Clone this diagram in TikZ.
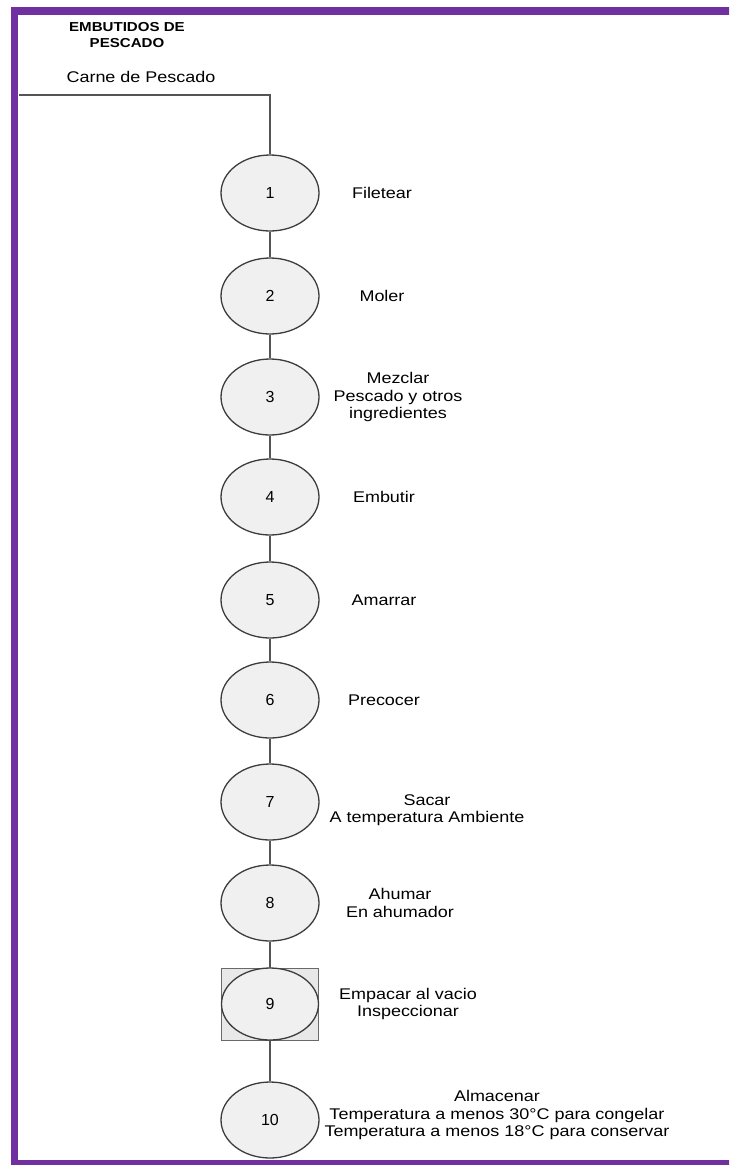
\documentclass[tikz,border=0pt]{standalone}
\usepackage{fontspec}
\setmainfont{Liberation Sans}
\newfontfamily\labfont{Liberation Sans}[FakeStretch=1.16]
\usetikzlibrary{shapes.geometric}
\definecolor{framec}{RGB}{112,48,160}
\definecolor{efill}{RGB}{240,240,240}
\definecolor{edraw}{RGB}{60,60,60}
\definecolor{connc}{RGB}{85,85,85}
\definecolor{sqfill}{RGB}{232,232,232}
\definecolor{sqdraw}{RGB}{105,105,105}
\begin{document}
\begin{tikzpicture}[x=1pt,y=-1pt,
  op/.style={ellipse,draw=edraw,fill=efill,line width=1.3pt,minimum width=98pt,minimum height=76pt,inner sep=0pt,font=\fontsize{16}{17}\selectfont},
  lbl/.style={align=center,font=\labfont\fontsize{15.5}{17.5}\selectfont,inner sep=0pt},
  conn/.style={draw=connc,line width=1.8pt},
  sqbox/.style={rectangle,draw=sqdraw,fill=sqfill,line width=1pt,minimum width=97pt,minimum height=72pt,inner sep=0pt}]
\useasboundingbox (0,0) rectangle (729,1165);
\begin{scope}
\clip (0,0) rectangle (729,1165);
\draw[framec,line width=7.5pt] (14.5,11) rectangle (760,1164);
\end{scope}
\node[font=\labfont\bfseries\fontsize{13}{16}\selectfont,align=center,inner sep=0pt] (title) at (127,35) {EMBUTIDOS DE\\PESCADO};
\node[lbl] (carne) at (141,77) {Carne de Pescado};
\node[op] (n1) at (270,193) {1};
\node[op] (n2) at (270,296) {2};
\node[op] (n3) at (270,397) {3};
\node[op] (n4) at (270,497) {4};
\node[op] (n5) at (270,600) {5};
\node[op] (n6) at (270,700) {6};
\node[op] (n7) at (270,802) {7};
\node[op] (n8) at (270,903) {8};
\node[sqbox] (sq) at (270,1004) {};
\node[op,minimum width=97pt,minimum height=72pt] (n9) at (270,1004) {9};
\node[op] (n10) at (270,1120) {10};
\coordinate (in) at (19,95);
\coordinate (corner) at (270,95);
\draw[conn] (in) -- (corner) -- (n1.north);
\draw[conn] (n1.south) -- (n2.north);
\draw[conn] (n2.south) -- (n3.north);
\draw[conn] (n3.south) -- (n4.north);
\draw[conn] (n4.south) -- (n5.north);
\draw[conn] (n5.south) -- (n6.north);
\draw[conn] (n6.south) -- (n7.north);
\draw[conn] (n7.south) -- (n8.north);
\draw[conn] (n8.south) -- (sq.north);
\draw[conn] (sq.south) -- (n10.north);
\node[lbl] (l1) at (382,193) {Filetear};
\node[lbl] (l2) at (382,296) {Moler};
\node[lbl] (l3) at (398,397) {Mezclar\\Pescado y otros\\ingredientes};
\node[lbl] (l4) at (384,497) {Embutir};
\node[lbl] (l5) at (384,600) {Amarrar};
\node[lbl] (l6) at (384,700) {Precocer};
\node[lbl] (l7) at (427,810) {Sacar\\A temperatura Ambiente};
\node[lbl] (l8) at (400,903) {Ahumar\\En ahumador};
\node[lbl] (l9) at (408,1004) {Empacar al vacio\\Inspeccionar};
\node[lbl] (l10) at (497,1115) {Almacenar\\Temperatura a menos 30°C para congelar\\Temperatura a menos 18°C para conservar};
\end{tikzpicture}
\end{document}
